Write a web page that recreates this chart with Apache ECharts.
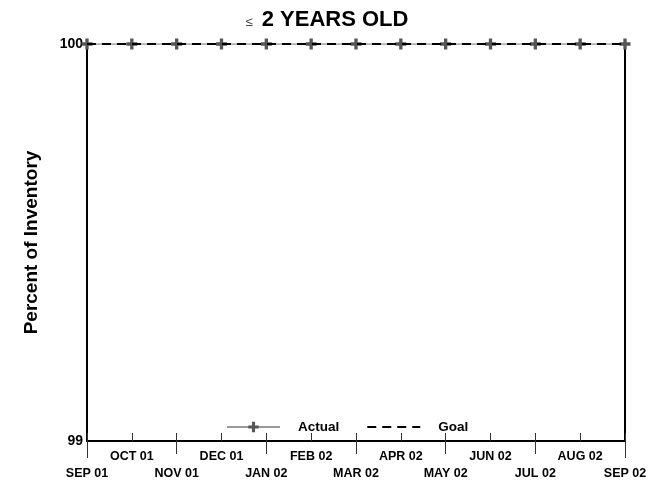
<!DOCTYPE html>
<html>
<head>
<meta charset="utf-8">
<script src="https://cdn.jsdelivr.net/npm/echarts@6/dist/echarts.min.js"></script>
<style>
  html, body { margin: 0; padding: 0; background: #fff; }
  #main { width: 654px; height: 482px; }
</style>
</head>
<body>
<div id="main"></div>
<script>
// months along the bottom, first row gets odd ones, second row even ones
var months = ['SEP 01', 'OCT 01', 'NOV 01', 'DEC 01', 'JAN 02', 'FEB 02', 'MAR 02',
  'APR 02', 'MAY 02', 'JUN 02', 'JUL 02', 'AUG 02', 'SEP 02'];
var actual = [100, 100, 100, 100, 100, 100, 100, 100, 100, 100, 100, 100, 100];
var goal = [100, 100, 100, 100, 100, 100, 100, 100, 100, 100, 100, 100, 100];
var yTicks = [99, 100];

var plus = 'path://M3.5,0H6.5V3.5H10V6.5H6.5V10H3.5V6.5H0V3.5H3.5Z';
var font = 'Arial, "Liberation Sans", sans-serif';

var chartDom = document.getElementById('main');
var myChart = echarts.init(chartDom, null, { renderer: 'canvas' });

// extra bottom axis, only used for the tick marks under the axis line
function tickAxis(len, pick) {
  return {
    type: 'category',
    data: months,
    boundaryGap: false,
    position: 'bottom',
    axisLine: { show: false },
    axisTick: { length: len, interval: pick, lineStyle: { color: '#333', width: 1 } },
    axisLabel: { show: false },
    splitLine: { show: false }
  };
}

var option = {
  animation: false,
  backgroundColor: '#fff',
  title: {
    text: '{le|≤}{b|2 YEARS OLD}',
    left: 'center',
    top: 4,
    textStyle: {
      rich: {
        le: { fontFamily: font, fontSize: 13, color: '#444', fontWeight: 'normal', padding: [4, 9, 0, 0] },
        b: { fontFamily: font, fontSize: 22, color: '#000', fontWeight: 'bold' }
      }
    }
  },
  legend: {
    left: 221,
    top: 415,
    itemWidth: 53,
    itemHeight: 13,
    itemGap: 27,
    textStyle: {
      fontFamily: font, fontSize: 13.5, fontWeight: 'bold', color: '#000',
      padding: [0, 0, 0, 13]
    },
    data: ['Actual', 'Goal']
  },
  grid: { left: 87, right: 29, top: 44, bottom: 41 },
  xAxis: [
    {
      type: 'category',
      data: months,
      boundaryGap: false,
      axisLine: { lineStyle: { color: '#000', width: 2 } },
      axisTick: { inside: true, length: 8, interval: 0, lineStyle: { color: '#333', width: 1 } },
      axisLabel: {
        interval: 0,
        margin: 7,
        fontFamily: font, fontSize: 12.5, fontWeight: 'bold', color: '#000',
        lineHeight: 17,
        formatter: function (v, i) {
          return i % 2 === 1 ? v : '\n' + v;
        }
      },
      splitLine: { show: false }
    },
    tickAxis(13, function (i) { return i % 2 === 0; }),
    tickAxis(17, function (i) { return i === 0 || i === months.length - 1; })
  ],
  yAxis: [
    {
      type: 'value',
      min: 99,
      max: 100,
      interval: 0.5,
      name: 'Percent of Inventory',
      nameLocation: 'middle',
      nameGap: 46,
      nameTextStyle: { fontFamily: font, fontSize: 19, fontWeight: 'bold', color: '#000' },
      axisLine: { show: true, lineStyle: { color: '#000', width: 2 } },
      axisTick: { inside: true, length: 4, lineStyle: { color: '#000' } },
      axisLabel: {
        margin: 4,
        fontFamily: font, fontSize: 14, fontWeight: 'bold', color: '#000',
        formatter: function (v) {
          return yTicks.indexOf(v) >= 0 ? String(v) : '';
        }
      },
      splitLine: { show: false }
    },
    {
      type: 'value',
      min: 99,
      max: 100,
      position: 'right',
      axisLine: { show: true, lineStyle: { color: '#000', width: 2 } },
      axisTick: { show: false },
      axisLabel: { show: false },
      splitLine: { show: false }
    }
  ],
  series: [
    {
      name: 'Actual',
      type: 'line',
      data: actual,
      symbol: plus,
      symbolSize: 11,
      showAllSymbol: true,
      lineStyle: { color: '#999', width: 1.5 },
      itemStyle: { color: '#555' },
      z: 2
    },
    {
      name: 'Goal',
      type: 'line',
      data: goal,
      symbol: 'none',
      symbolSize: 0,
      lineStyle: { color: '#000', width: 2, type: [9, 6] },
      itemStyle: { color: '#000', opacity: 0 },
      z: 3
    }
  ]
};

myChart.setOption(option);
</script>
</body>
</html>
